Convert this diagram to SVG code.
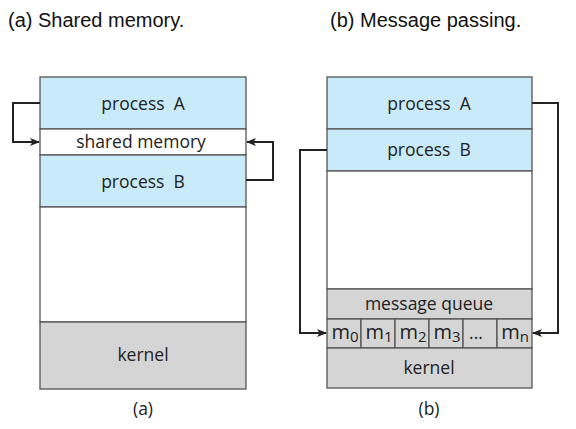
<svg xmlns="http://www.w3.org/2000/svg" width="576" height="429" viewBox="0 0 576 429">
<defs>
<marker id="ah" markerWidth="10" markerHeight="8" refX="9" refY="4" orient="auto" markerUnits="userSpaceOnUse">
<path d="M0,0 L10,4 L0,8 L2.5,4 Z" fill="#222"/>
</marker>
</defs>
<style>
.blue{fill:#c9eaf9;stroke:#555;stroke-width:1.3}
.white{fill:#fff;stroke:#555;stroke-width:1.3}
.gray{fill:#d5d5d5;stroke:#555;stroke-width:1.3}
.t{font-family:"Open Sans","Noto Sans",sans-serif;font-size:17.5px;fill:#222;text-anchor:middle}
.m{font-size:20px}
.sub{font-size:15px}
.title{font-family:"Liberation Sans",Arial,sans-serif;font-size:20px;fill:#111}
.conn{fill:none;stroke:#222;stroke-width:2;marker-end:url(#ah)}
</style>
<rect width="576" height="429" fill="#fff"/>
<text class="title" x="8" y="27">(a) Shared memory.</text>
<text class="title" x="330" y="27">(b) Message passing.</text>

<g id="a-processA"><rect class="blue" x="40" y="77" width="206" height="52"/><text class="t" x="143" y="110" xml:space="preserve">process  A</text></g>
<g id="a-shared"><rect class="white" x="40" y="129" width="206" height="26"/><text class="t" x="141" y="148">shared memory</text></g>
<g id="a-processB"><rect class="blue" x="40" y="155" width="206" height="52"/><text class="t" x="143" y="188" xml:space="preserve">process  B</text></g>
<g id="a-free"><rect class="white" x="40" y="207" width="206" height="115"/></g>
<g id="a-kernel"><rect class="gray" x="40" y="322" width="206" height="67"/><text class="t" x="143" y="361">kernel</text></g>
<text class="t" x="143" y="415">(a)</text>

<g id="b-processA"><rect class="blue" x="327" y="77" width="205" height="52"/><text class="t" x="429" y="110" xml:space="preserve">process  A</text></g>
<g id="b-processB"><rect class="blue" x="327" y="129" width="205" height="42"/><text class="t" x="429" y="156" xml:space="preserve">process  B</text></g>
<g id="b-free"><rect class="white" x="327" y="171" width="205" height="118"/></g>
<g id="b-queue"><rect class="gray" x="327" y="289" width="205" height="30"/><text class="t" x="429" y="310">message queue</text></g>
<g id="b-cells">
<rect class="gray" x="327" y="319" width="34" height="29"/>
<rect class="gray" x="361" y="319" width="34" height="29"/>
<rect class="gray" x="395" y="319" width="34" height="29"/>
<rect class="gray" x="429" y="319" width="34" height="29"/>
<rect class="gray" x="463" y="319" width="34" height="29"/>
<rect class="gray" x="497" y="319" width="35" height="29"/>
<text class="t m" x="345" y="339">m<tspan class="sub" dy="3">0</tspan></text>
<text class="t m" x="379" y="339">m<tspan class="sub" dy="3">1</tspan></text>
<text class="t m" x="413" y="339">m<tspan class="sub" dy="3">2</tspan></text>
<text class="t m" x="447" y="339">m<tspan class="sub" dy="3">3</tspan></text>
<text class="t" x="476" y="339">...</text>
<text class="t m" x="515" y="339">m<tspan class="sub" dy="3">n</tspan></text>
</g>
<g id="b-kernel"><rect class="gray" x="327" y="348" width="205" height="40"/><text class="t" x="429" y="374">kernel</text></g>
<text class="t" x="429" y="415">(b)</text>

<g id="connectors">
<path class="conn" d="M40,103 H13 V142 H39"/>
<path class="conn" d="M246,180 H273 V142 H247"/>
<path class="conn" d="M532,103 H558 V333 H533"/>
<path class="conn" d="M327,150 H300 V333 H326"/>
</g>
</svg>
